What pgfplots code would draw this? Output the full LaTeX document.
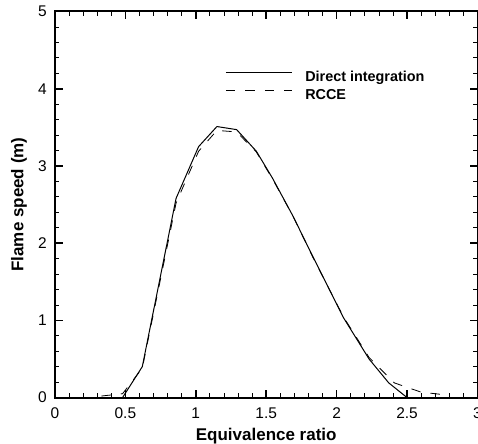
\documentclass[border=0pt]{standalone}
\usepackage{fontspec}
\setmainfont{Liberation Sans}
\usepackage{pgfplots}
\pgfplotsset{compat=1.18}
\usetikzlibrary{calc}
\begin{document}
\begin{tikzpicture}
\begin{axis}[
  scale only axis,
  width=423pt, height=386.5pt,
  xmin=0, xmax=3, ymin=0, ymax=5,
  xtick={0,0.5,...,3}, ytick={0,1,...,5},
  minor x tick num=4, minor y tick num=4,
  tick align=inside,
  major tick length=8pt, minor tick length=4.5pt,
  major tick style={line width=1.6pt, black},
  minor tick style={line width=0.8pt, black},
  axis line style={line width=2pt},
  /pgf/number format/assume math mode=true,
  tick label style={font=\fontsize{15.5}{18}\selectfont},
  xticklabel style={inner sep=0pt, anchor=north, yshift=-10pt},
  yticklabel style={inner sep=0pt, anchor=east, xshift=-8pt},
  xlabel={\bfseries Equivalence ratio},
  ylabel={\bfseries Flame speed (m)},
  label style={font=\bfseries\fontsize{17}{20}\selectfont},
  xlabel style={at={(rel axis cs:0.5,0)}, anchor=base, yshift=-43pt},
  ylabel style={at={($(rel axis cs:0,0.5)+(-31.7pt,0pt)$)}, anchor=base, rotate=0},
  legend style={draw=none, fill=none, at={(axis cs:1.21,4.228)}, anchor=north west,
    inner sep=0pt, outer sep=0pt, row sep=4.5pt, column sep=13pt,
    font=\bfseries\fontsize{14.4}{16}\selectfont,
    nodes={inner sep=0pt, text height=10.5pt, text depth=3pt}},
  legend cell align=left,
  legend image code/.code={\draw[#1] (0pt,5.2pt) -- (66pt,5.2pt);},
]
\addplot[black, line width=1pt] coordinates {
(0.48,0.0) (0.62,0.40) (0.86,2.58) (1.02,3.25) (1.15,3.51) (1.29,3.47)
(1.43,3.19) (1.545,2.84) (1.69,2.35) (1.83,1.83) (2.05,1.03)
(2.23,0.50) (2.37,0.19) (2.5,0.0)};
\addlegendentry{Direct integration}
\addplot[black, line width=0.8pt, dash pattern=on 9.5pt off 10pt] coordinates {
(0.33,0.02) (0.48,0.05) (0.62,0.38) (0.86,2.52) (1.02,3.19) (1.15,3.46) (1.29,3.44)
(1.43,3.18) (1.545,2.83) (1.69,2.35) (1.83,1.82) (2.05,1.04)
(2.23,0.52) (2.41,0.19) (2.6,0.07) (2.75,0.04)};
\addlegendentry{RCCE}
\coordinate (ll) at (rel axis cs:0,0);
\coordinate (ur) at (rel axis cs:1,1);
\end{axis}
\pgfresetboundingbox
\path ($(ll)+(-55pt,-46pt)$) rectangle ($(ur)+(0.5pt,11.5pt)$);
\end{tikzpicture}
\end{document}
